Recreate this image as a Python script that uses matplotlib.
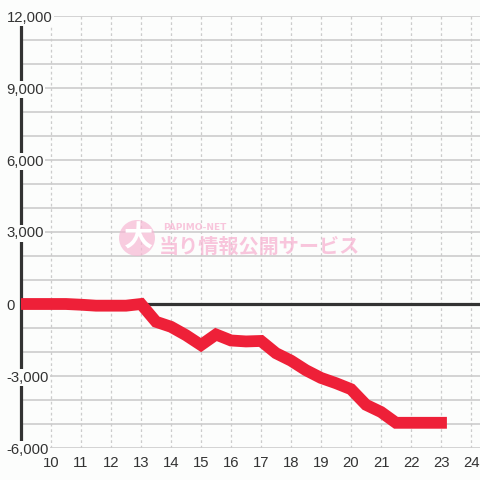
import matplotlib
matplotlib.use("Agg")
import matplotlib.pyplot as plt
from matplotlib.patches import Circle

# ---- data ----
hours = [9.0, 9.5, 10.0, 10.5, 11.0, 11.5, 12.0, 12.5, 13.0, 13.5, 14.0, 14.5,
         15.0, 15.5, 16.0, 16.5, 17.0, 17.5, 18.0, 18.5, 19.0, 19.5, 20.0,
         20.5, 21.0, 21.5, 22.0, 22.5, 23.0]
values = [0, 0, 0, 0, -30, -70, -70, -70, 0, -740, -950, -1300,
          -1710, -1270, -1520, -1560, -1540, -2050, -2360, -2760, -3080,
          -3300, -3550, -4200, -4500, -4950, -4950, -4950, -4950]
x_ticks = list(range(10, 25))
y_ticks = [-6000, -3000, 0, 3000, 6000, 9000, 12000]
y_tick_labels = ["-6,000", "-3,000", "0", "3,000", "6,000", "9,000", "12,000"]
y_grid = list(range(-6000, 12001, 1000))

BG = "#fcfdfc"
W = H = 480
fig = plt.figure(figsize=(4.8, 4.8), dpi=100, facecolor=BG)
ax = fig.add_axes([21 / W, 1 - 448 / H, 459 / W, 432 / H], facecolor=BG)
ax.set_xlim(9, 24.3)
ax.set_ylim(-6000, 12000)

# grid
for yv in y_grid:
    ax.axhline(yv, color="#c8c8c8", lw=1.1, zorder=1)
for xv in x_ticks:
    ax.axvline(xv, color="#cccccc", lw=0.9, ls=(0, (2.2, 2.2)), zorder=1)

# zero line
ax.axhline(0, color="#333333", lw=2.3, zorder=2)

# watermark
wm_col = "#f7b8d4"
fig.patches.append(Circle((137 / W, 1 - 238 / H), 18 / W, transform=fig.transFigure,
                          facecolor=wm_col, edgecolor="none", alpha=0.7, zorder=3))
fig.text(138 / W, 1 - 238 / H, "大", color="white", fontsize=21, fontweight="bold",
         ha="center", va="center", family=["Noto Sans CJK JP"], zorder=4)
fig.text(163 / W, 1 - 227 / H, "PAPIMO-NET", color=wm_col, fontsize=6.5, alpha=0.8,
         ha="left", va="center", family=["DejaVu Sans"], fontweight="bold", zorder=4)
fig.text(159 / W, 1 - 246 / H, "当り情報公開サービス", color=wm_col, fontsize=14.5, alpha=0.8,
         ha="left", va="center", family=["Noto Sans CJK JP"], fontweight="bold", zorder=4)

# data line
ax.plot(hours, values, color="#ee2038", lw=8.5, solid_joinstyle="miter",
        solid_capstyle="projecting", zorder=5)

# spines
for s in ["top", "right", "bottom"]:
    ax.spines[s].set_visible(False)
ax.spines["left"].set_color("#333333")
ax.spines["left"].set_linewidth(2.3)
ax.spines["left"].set_zorder(2.5)
ax.yaxis.set_zorder(20)

# ticks
ax.set_xticks(x_ticks)
ax.set_xticklabels([str(x) for x in x_ticks])
ax.set_yticks(y_ticks)
ax.set_yticklabels(y_tick_labels)
ax.tick_params(axis="both", length=0, labelsize=10.7, labelcolor="#333333")
ax.tick_params(axis="x", pad=5.5)
ax.tick_params(axis="y", pad=10.5)
for lab in ax.get_yticklabels():
    lab.set_horizontalalignment("left")
    lab.set_bbox(dict(facecolor=BG, edgecolor="none", pad=1.0))
for lab in ax.get_xticklabels() + ax.get_yticklabels():
    lab.set_family(["Liberation Sans", "DejaVu Sans"])

fig.savefig("out.png", dpi=100, facecolor=BG)
